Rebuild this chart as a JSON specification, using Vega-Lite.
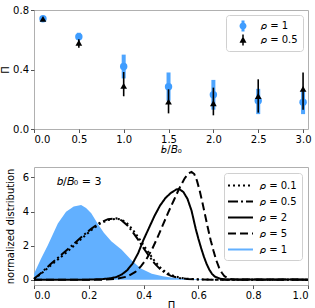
{
  "$schema": "https://vega.github.io/schema/vega-lite/v6.json",
  "padding": {"left": 0, "top": 4, "right": 0, "bottom": 0},
  "spacing": 38,
  "bounds": "flush",
  "resolve": {"scale": {"color": "independent", "shape": "independent", "strokeDash": "independent", "strokeWidth": "independent"}, "legend": {"color": "independent", "shape": "independent", "strokeDash": "independent", "strokeWidth": "independent"}},
  "config": {
    "font": "DejaVu Sans",
    "view": {"stroke": "#b0b0b0", "strokeWidth": 1},
    "axis": {"grid": false, "domain": false, "labelFont": "DejaVu Sans", "titleFont": "DejaVu Sans", "labelFontSize": 10, "titleFontSize": 10, "titleFontWeight": "normal", "labelColor": "#000", "titleColor": "#000", "tickColor": "#555", "tickSize": 3.5, "labelPadding": 2},
    "legend": {"labelFont": "DejaVu Sans", "labelFontSize": 10, "labelColor": "#000"}
  },
  "datasets": {
    "top": [
      {"b": 0.1, "pi": 0.741, "lo": 0.732, "hi": 0.75, "rho": "1"},
      {"b": 0.5, "pi": 0.62, "lo": 0.603, "hi": 0.647, "rho": "1"},
      {"b": 1.0, "pi": 0.42, "lo": 0.34, "hi": 0.5, "rho": "1"},
      {"b": 1.5, "pi": 0.284, "lo": 0.19, "hi": 0.38, "rho": "1"},
      {"b": 2.0, "pi": 0.23, "lo": 0.13, "hi": 0.33, "rho": "1"},
      {"b": 2.5, "pi": 0.19, "lo": 0.1, "hi": 0.27, "rho": "1"},
      {"b": 3.0, "pi": 0.18, "lo": 0.1, "hi": 0.255, "rho": "1"},
      {"b": 0.1, "pi": 0.74, "lo": 0.735, "hi": 0.745, "rho": "0.5"},
      {"b": 0.5, "pi": 0.58, "lo": 0.547, "hi": 0.603, "rho": "0.5"},
      {"b": 1.0, "pi": 0.29, "lo": 0.22, "hi": 0.383, "rho": "0.5"},
      {"b": 1.5, "pi": 0.184, "lo": 0.105, "hi": 0.267, "rho": "0.5"},
      {"b": 2.0, "pi": 0.173, "lo": 0.092, "hi": 0.278, "rho": "0.5"},
      {"b": 2.5, "pi": 0.222, "lo": 0.11, "hi": 0.334, "rho": "0.5"},
      {"b": 3.0, "pi": 0.27, "lo": 0.13, "hi": 0.38, "rho": "0.5"}
    ],
    "blue": [
      {"p": 0.0, "v": 0.35}, {"p": 0.026, "v": 1.24}, {"p": 0.05, "v": 2.0}, {"p": 0.087, "v": 3.3},
      {"p": 0.117, "v": 3.98}, {"p": 0.145, "v": 4.3}, {"p": 0.172, "v": 4.38}, {"p": 0.19, "v": 4.2},
      {"p": 0.209, "v": 3.9}, {"p": 0.232, "v": 3.3}, {"p": 0.255, "v": 2.75}, {"p": 0.282, "v": 2.25},
      {"p": 0.32, "v": 1.75}, {"p": 0.355, "v": 1.15}, {"p": 0.39, "v": 0.65}, {"p": 0.43, "v": 0.35},
      {"p": 0.47, "v": 0.2}, {"p": 0.5, "v": 0.12}, {"p": 0.55, "v": 0.05}, {"p": 0.62, "v": 0.02},
      {"p": 0.7, "v": 0.0}, {"p": 1.0, "v": 0.0}
    ],
    "lines": [
      {"rho": "0.1", "p": 0.0, "v": 0.03}, {"rho": "0.1", "p": 0.03, "v": 0.4}, {"rho": "0.1", "p": 0.06, "v": 0.82},
      {"rho": "0.1", "p": 0.09, "v": 1.22}, {"rho": "0.1", "p": 0.12, "v": 1.62}, {"rho": "0.1", "p": 0.15, "v": 2.05},
      {"rho": "0.1", "p": 0.18, "v": 2.5}, {"rho": "0.1", "p": 0.21, "v": 2.92}, {"rho": "0.1", "p": 0.24, "v": 3.28},
      {"rho": "0.1", "p": 0.27, "v": 3.5}, {"rho": "0.1", "p": 0.3, "v": 3.58}, {"rho": "0.1", "p": 0.32, "v": 3.52},
      {"rho": "0.1", "p": 0.34, "v": 3.3}, {"rho": "0.1", "p": 0.36, "v": 2.95}, {"rho": "0.1", "p": 0.38, "v": 2.5},
      {"rho": "0.1", "p": 0.4, "v": 2.02}, {"rho": "0.1", "p": 0.42, "v": 1.55}, {"rho": "0.1", "p": 0.44, "v": 1.1},
      {"rho": "0.1", "p": 0.46, "v": 0.72}, {"rho": "0.1", "p": 0.48, "v": 0.45}, {"rho": "0.1", "p": 0.5, "v": 0.28},
      {"rho": "0.1", "p": 0.53, "v": 0.12}, {"rho": "0.1", "p": 0.56, "v": 0.05}, {"rho": "0.1", "p": 0.6, "v": 0.02},
      {"rho": "0.1", "p": 0.65, "v": 0.0}, {"rho": "0.1", "p": 1.0, "v": 0.0},
      {"rho": "0.5", "p": 0.0, "v": 0.05}, {"rho": "0.5", "p": 0.03, "v": 0.45}, {"rho": "0.5", "p": 0.06, "v": 0.9},
      {"rho": "0.5", "p": 0.09, "v": 1.32}, {"rho": "0.5", "p": 0.12, "v": 1.74}, {"rho": "0.5", "p": 0.15, "v": 2.17},
      {"rho": "0.5", "p": 0.18, "v": 2.6}, {"rho": "0.5", "p": 0.21, "v": 3.0}, {"rho": "0.5", "p": 0.24, "v": 3.34},
      {"rho": "0.5", "p": 0.27, "v": 3.55}, {"rho": "0.5", "p": 0.3, "v": 3.6}, {"rho": "0.5", "p": 0.32, "v": 3.48},
      {"rho": "0.5", "p": 0.34, "v": 3.2}, {"rho": "0.5", "p": 0.36, "v": 2.8}, {"rho": "0.5", "p": 0.38, "v": 2.35},
      {"rho": "0.5", "p": 0.4, "v": 1.85}, {"rho": "0.5", "p": 0.42, "v": 1.38}, {"rho": "0.5", "p": 0.44, "v": 0.95},
      {"rho": "0.5", "p": 0.46, "v": 0.62}, {"rho": "0.5", "p": 0.48, "v": 0.38}, {"rho": "0.5", "p": 0.5, "v": 0.22},
      {"rho": "0.5", "p": 0.53, "v": 0.1}, {"rho": "0.5", "p": 0.56, "v": 0.04}, {"rho": "0.5", "p": 0.6, "v": 0.01},
      {"rho": "0.5", "p": 0.65, "v": 0.0}, {"rho": "0.5", "p": 1.0, "v": 0.0},
      {"rho": "2", "p": 0.0, "v": 0.0}, {"rho": "2", "p": 0.2, "v": 0.0}, {"rho": "2", "p": 0.25, "v": 0.03},
      {"rho": "2", "p": 0.28, "v": 0.08}, {"rho": "2", "p": 0.3, "v": 0.15}, {"rho": "2", "p": 0.32, "v": 0.3},
      {"rho": "2", "p": 0.34, "v": 0.55}, {"rho": "2", "p": 0.36, "v": 0.95}, {"rho": "2", "p": 0.38, "v": 1.55},
      {"rho": "2", "p": 0.4, "v": 2.35}, {"rho": "2", "p": 0.42, "v": 3.05}, {"rho": "2", "p": 0.44, "v": 3.75},
      {"rho": "2", "p": 0.46, "v": 4.35}, {"rho": "2", "p": 0.48, "v": 4.8}, {"rho": "2", "p": 0.5, "v": 5.1},
      {"rho": "2", "p": 0.52, "v": 5.3}, {"rho": "2", "p": 0.53, "v": 5.32}, {"rho": "2", "p": 0.545, "v": 5.15},
      {"rho": "2", "p": 0.56, "v": 4.75}, {"rho": "2", "p": 0.575, "v": 4.05}, {"rho": "2", "p": 0.59, "v": 3.0},
      {"rho": "2", "p": 0.6, "v": 2.4}, {"rho": "2", "p": 0.61, "v": 1.85}, {"rho": "2", "p": 0.62, "v": 1.35},
      {"rho": "2", "p": 0.63, "v": 0.92}, {"rho": "2", "p": 0.64, "v": 0.58}, {"rho": "2", "p": 0.65, "v": 0.33},
      {"rho": "2", "p": 0.66, "v": 0.18}, {"rho": "2", "p": 0.68, "v": 0.05}, {"rho": "2", "p": 0.7, "v": 0.01},
      {"rho": "2", "p": 1.0, "v": 0.0},
      {"rho": "5", "p": 0.0, "v": 0.0}, {"rho": "5", "p": 0.25, "v": 0.0}, {"rho": "5", "p": 0.3, "v": 0.04},
      {"rho": "5", "p": 0.34, "v": 0.18}, {"rho": "5", "p": 0.37, "v": 0.45}, {"rho": "5", "p": 0.39, "v": 0.78},
      {"rho": "5", "p": 0.41, "v": 1.2}, {"rho": "5", "p": 0.43, "v": 1.75}, {"rho": "5", "p": 0.45, "v": 2.45},
      {"rho": "5", "p": 0.47, "v": 3.2}, {"rho": "5", "p": 0.49, "v": 3.95}, {"rho": "5", "p": 0.51, "v": 4.65},
      {"rho": "5", "p": 0.53, "v": 5.35}, {"rho": "5", "p": 0.55, "v": 5.95}, {"rho": "5", "p": 0.565, "v": 6.25},
      {"rho": "5", "p": 0.575, "v": 6.33}, {"rho": "5", "p": 0.585, "v": 6.2}, {"rho": "5", "p": 0.595, "v": 5.8},
      {"rho": "5", "p": 0.605, "v": 5.2}, {"rho": "5", "p": 0.615, "v": 4.5}, {"rho": "5", "p": 0.625, "v": 3.75},
      {"rho": "5", "p": 0.635, "v": 3.0}, {"rho": "5", "p": 0.645, "v": 2.3}, {"rho": "5", "p": 0.655, "v": 1.7},
      {"rho": "5", "p": 0.665, "v": 1.15}, {"rho": "5", "p": 0.675, "v": 0.72}, {"rho": "5", "p": 0.685, "v": 0.42},
      {"rho": "5", "p": 0.695, "v": 0.2}, {"rho": "5", "p": 0.71, "v": 0.06}, {"rho": "5", "p": 0.73, "v": 0.01},
      {"rho": "5", "p": 1.0, "v": 0.0}
    ],
    "note": [{"p": 0.165, "v": 5.75, "text": "𝑏/𝐵₀ = 3"}]
  },
  "vconcat": [
    {
      "width": 274,
      "height": 119,
      "data": {"name": "top"},
      "encoding": {
        "x": {"field": "b", "type": "quantitative", "scale": {"domain": [0, 3.055], "nice": false, "zero": false},
              "axis": {"values": [0, 0.5, 1, 1.5, 2, 2.5, 3], "format": ".1f", "title": "𝑏/𝐵₀", "titlePadding": 0}}
      },
      "layer": [
        {
          "transform": [{"filter": "datum.rho == '1'"}],
          "mark": {"type": "rule", "strokeWidth": 4, "color": "#4ea5ff"},
          "encoding": {
            "y": {"field": "lo", "type": "quantitative", "scale": {"domain": [0, 0.8], "nice": false},
                  "axis": {"values": [0, 0.2, 0.4, 0.6, 0.8], "format": ".1f", "title": "Π", "titlePadding": 2}},
            "y2": {"field": "hi"}
          }
        },
        {
          "transform": [{"filter": "datum.rho == '1'"}],
          "mark": {"type": "point", "filled": true, "shape": "circle", "size": 55, "opacity": 1, "color": "#3f9dff"},
          "encoding": {"y": {"field": "pi", "type": "quantitative"}}
        },
        {
          "transform": [{"filter": "datum.rho == '0.5'"}],
          "mark": {"type": "rule", "strokeWidth": 1.6, "color": "#000"},
          "encoding": {"y": {"field": "lo", "type": "quantitative"}, "y2": {"field": "hi"}}
        },
        {
          "transform": [{"filter": "datum.rho == '0.5'"}],
          "mark": {"type": "point", "filled": true, "shape": "triangle-up", "size": 45, "opacity": 1, "color": "#000"},
          "encoding": {"y": {"field": "pi", "type": "quantitative"}}
        },
        {
          "transform": [{"filter": "false"}],
          "mark": {"type": "point", "filled": true, "opacity": 1},
          "encoding": {
            "y": {"field": "pi", "type": "quantitative"},
            "shape": {"field": "rho", "type": "nominal",
                      "scale": {"domain": ["1", "0.5"], "range": ["M-0.3,-1.1H0.3V1.1H-0.3Z M0.7,0A0.7,0.7,0,1,1,-0.7,0A0.7,0.7,0,1,1,0.7,0Z", "M-0.15,-1.1H0.15V1.1H-0.15Z M0,-0.75L0.7,0.55L-0.7,0.55Z"]},
                      "legend": {"title": null, "orient": "top-right", "offset": 5, "padding": 5, "strokeColor": "#d0d0d0", "fillColor": "#ffffff", "cornerRadius": 3, "symbolSize": 100, "symbolOffset": 6, "labelOffset": 12, "rowPadding": 2, "labelExpr": "'𝜌 = ' + datum.label"}},
            "color": {"field": "rho", "type": "nominal",
                      "scale": {"domain": ["1", "0.5"], "range": ["#3f9dff", "#000000"]},
                      "legend": {"title": null, "orient": "top-right", "offset": 5, "padding": 5, "strokeColor": "#d0d0d0", "fillColor": "#ffffff", "cornerRadius": 3, "symbolSize": 100, "symbolOffset": 6, "labelOffset": 12, "rowPadding": 2, "labelExpr": "'𝜌 = ' + datum.label"}}
          }
        }
      ]
    },
    {
      "width": 274,
      "height": 118,
      "encoding": {
        "x": {"field": "p", "type": "quantitative", "scale": {"domain": [0, 1], "nice": false},
              "axis": {"values": [0, 0.2, 0.4, 0.6, 0.8, 1.0], "format": ".1f", "title": "Π", "titlePadding": 0}},
        "y": {"field": "v", "type": "quantitative", "scale": {"domain": [-0.315, 6.615], "nice": false, "zero": false},
              "axis": {"values": [0, 2, 4, 6], "title": "normalized distribution", "titlePadding": 7}}
      },
      "layer": [
        {
          "data": {"name": "blue"},
          "mark": {"type": "area", "color": "#62b0ff", "opacity": 1},
          "encoding": {"y2": {"datum": 0}}
        },
        {
          "data": {"name": "lines"},
          "mark": {"type": "line", "strokeCap": "butt"},
          "encoding": {
            "color": {"field": "rho", "type": "nominal",
                      "scale": {"domain": ["0.1", "0.5", "2", "5", "1"], "range": ["#000000", "#000000", "#000000", "#000000", "#62b0ff"]},
                      "legend": {"title": null, "orient": "top-right", "offset": 6, "padding": 5, "strokeColor": "#d0d0d0", "fillColor": "#ffffff", "cornerRadius": 3, "symbolType": "M-2,0H2", "symbolSize": 156, "symbolOffset": 4, "labelOffset": 12, "rowPadding": 3, "labelExpr": "'𝜌 = ' + datum.label"}},
            "strokeDash": {"field": "rho", "type": "nominal",
                      "scale": {"domain": ["0.1", "0.5", "2", "5", "1"], "range": [[2, 3], [10, 3, 2, 3], [1, 0], [8, 4], [1, 0]]},
                      "legend": {"title": null, "orient": "top-right", "offset": 6, "padding": 5, "strokeColor": "#d0d0d0", "fillColor": "#ffffff", "cornerRadius": 3, "symbolType": "M-2,0H2", "symbolSize": 156, "symbolOffset": 4, "labelOffset": 12, "rowPadding": 3, "labelExpr": "'𝜌 = ' + datum.label"}},
            "strokeWidth": {"field": "rho", "type": "nominal",
                      "scale": {"domain": ["0.1", "0.5", "2", "5", "1"], "range": [2, 2, 2, 2, 9]},
                      "legend": {"title": null, "orient": "top-right", "offset": 6, "padding": 5, "strokeColor": "#d0d0d0", "fillColor": "#ffffff", "cornerRadius": 3, "symbolType": "M-2,0H2", "symbolSize": 156, "symbolOffset": 4, "labelOffset": 12, "rowPadding": 3, "labelExpr": "'𝜌 = ' + datum.label"}}
          }
        },
        {
          "data": {"name": "note"},
          "mark": {"type": "text", "fontSize": 11, "font": "DejaVu Sans", "align": "center", "baseline": "middle"},
          "encoding": {"text": {"field": "text"}}
        }
      ]
    }
  ]
}
